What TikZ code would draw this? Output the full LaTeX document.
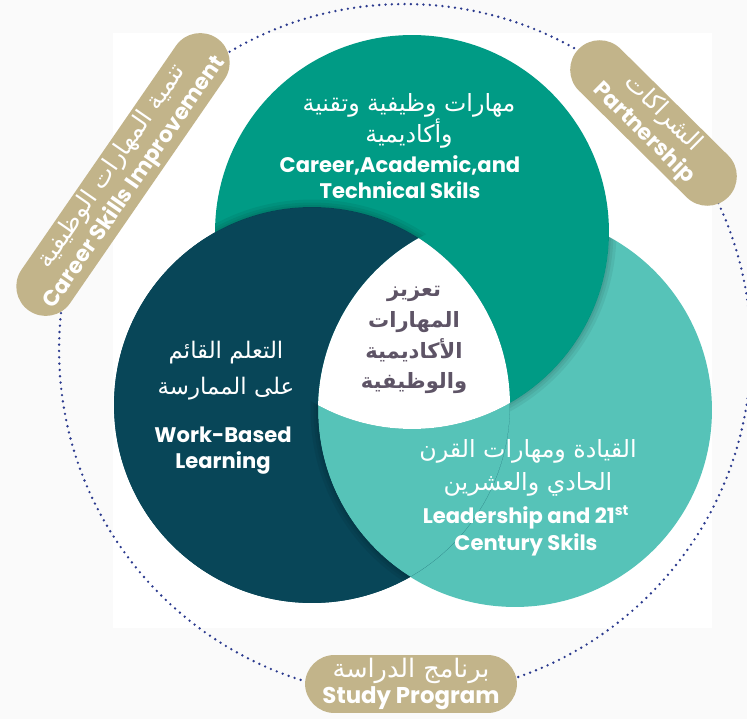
\documentclass[tikz,border=0pt]{standalone}
\usepackage{fontspec}
\setmainfont{Poppins}
\newfontfamily\arabicfont[Script=Arabic]{DejaVu Sans}
\TeXXeTstate=1
\usepackage{xcolor}
\usepackage{tikz}

\definecolor{careergreen}{HTML}{009B85}
\definecolor{workdark}{HTML}{084658}
\definecolor{leadlight}{HTML}{56C3B8}
\definecolor{pilltan}{HTML}{C2B48A}
\definecolor{dotnavy}{HTML}{2B3A8E}
\definecolor{coregray}{HTML}{5E5466}
\definecolor{pagegray}{HTML}{FAFAFA}

\newcommand{\arline}[1]{{\arabicfont\mdseries\beginR #1\endR}}
\newcommand{\arbold}[1]{{\arabicfont\bfseries\beginR #1\endR}}

\begin{document}
\begin{tikzpicture}[x=0.02cm, y=-0.02cm]
        % Define styles
        \tikzset{
            pill/.style={rectangle, rounded corners=0.59cm, fill=pilltan, text=white, minimum height=1.18cm, inner sep=0pt, align=center, font=\bfseries\fontsize{12.5}{15.5}\selectfont},
            entext/.style={text=white, align=center, font=\bfseries\fontsize{12}{14.8}\selectfont},
            artext/.style={text=white, align=center, font=\fontsize{13.5}{16}\selectfont},
            coretext/.style={text=coregray, align=center, font=\fontsize{12}{17.6}\selectfont},
            ring/.style={dotnavy, line width=1.5pt, line cap=round, dash pattern=on 0pt off 3.6pt},
            softshade/.style={black, opacity=0.06}
        }

        % Page
        \fill[pagegray] (0,0) rectangle (747,719);
        \fill[white] (113,33) rectangle (712,628);
        \useasboundingbox (0,0) rectangle (747,719);

        % Centres
        \coordinate (ring_c) at (405,350);
        \coordinate (career_c) at (412,232);
        \coordinate (work_c) at (312,405);
        \coordinate (lead_c) at (515,410);

        % Ring
        \draw[ring] (ring_c) circle[radius=6.92cm];

        % Circles
        \fill[workdark] (work_c) circle[radius=3.96cm];
        \fill[leadlight] (lead_c) circle[radius=3.94cm];
        \fill[careergreen] (career_c) circle[radius=3.94cm];
        \begin{scope}
            \clip (work_c) circle[radius=3.96cm];
            \fill[workdark, even odd rule] (work_c) circle[radius=3.96cm] (lead_c) circle[radius=3.94cm];
        \end{scope}

        % Shadows
        \begin{scope}[even odd rule]
            \clip (career_c) circle[radius=3.94cm];
            \clip (work_c) circle[radius=3.96cm] (0,0) rectangle (747,719);
            \clip (lead_c) circle[radius=3.94cm] (0,0) rectangle (747,719);
            \foreach \w in {0.08,0.18,0.3}
                \draw[softshade, line width=\w cm] (work_c) circle[radius=3.96cm];
        \end{scope}
        \begin{scope}[even odd rule]
            \clip (lead_c) circle[radius=3.94cm];
            \clip (career_c) circle[radius=3.94cm] (0,0) rectangle (747,719);
            \clip (work_c) circle[radius=3.96cm] (0,0) rectangle (747,719);
            \foreach \w in {0.08,0.18,0.3}
                \draw[softshade, line width=\w cm] (career_c) circle[radius=3.94cm];
        \end{scope}
        \begin{scope}[even odd rule]
            \clip (work_c) circle[radius=3.96cm];
            \clip (lead_c) circle[radius=3.94cm] (0,0) rectangle (747,719);
            \clip (career_c) circle[radius=3.94cm] (0,0) rectangle (747,719);
            \foreach \w in {0.08,0.18,0.3}
                \draw[softshade, line width=\w cm] (lead_c) circle[radius=3.94cm];
        \end{scope}

        % Centre
        \begin{scope}
            \clip (work_c) circle[radius=3.96cm];
            \clip (lead_c) circle[radius=3.94cm];
            \fill[white] (career_c) circle[radius=3.94cm];
        \end{scope}

        % Circle texts
        \node[artext] (career_ar) at (409,121) {\arline{مهارات وظيفية وتقنية}\\\arline{وأكاديمية}};
        \node[entext] (career_en) at (400,177) {Career,Academic,and\\Technical Skils};
        \node[artext, font=\fontsize{13}{20.5}\selectfont] (work_ar) at (226,371) {\arline{التعلم القائم}\\\arline{على الممارسة}};
        \node[entext] (work_en) at (223,451) {Work-Based\\Learning};
        \node[artext, font=\fontsize{13.5}{18.8}\selectfont] (lead_ar) at (528,468) {\arline{القيادة ومهارات القرن}\\\arline{الحادي والعشرين}};
        \node[entext, font=\bfseries\fontsize{12}{15.4}\selectfont] (lead_en) at (526,531) {Leadership and 21\textsuperscript{st}\\Century Skils};
        \node[coretext] (core) at (414,340) {\arbold{تعزيز}\\\arbold{المهارات}\\\arbold{الأكاديمية}\\\arbold{والوظيفية}};

        % Pills
        \node[pill, rotate=55.4, minimum width=6.62cm] (pill_career) at (123,174.5) {{\fontsize{14}{15.5}\selectfont\arline{تنمية المهارات الوظيفية}}\\Career Skills Improvement};
        \node[pill, rotate=-44.7, minimum width=4.21cm] (pill_partner) at (653.5,123) {{\fontsize{14}{15.5}\selectfont\arline{الشراكات}}\\Partnership};
        \node[pill, minimum width=4.24cm, minimum height=1.16cm, font=\bfseries\fontsize{13}{14}\selectfont] (pill_study) at (411,684) {{\fontsize{14.5}{14}\selectfont\arline{برنامج الدراسة}}\\[1pt]Study Program};
\end{tikzpicture}
\end{document}
